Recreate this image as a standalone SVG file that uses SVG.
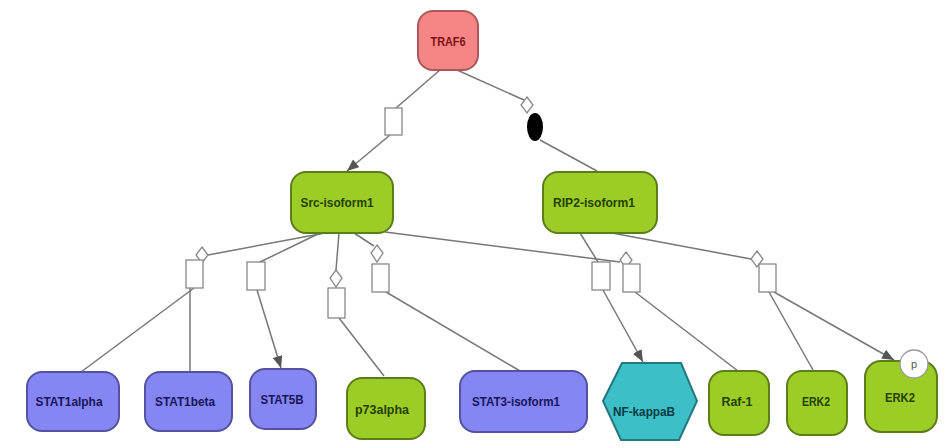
<svg xmlns="http://www.w3.org/2000/svg" width="951" height="448" viewBox="0 0 951 448">
<defs>
<marker id="arr" viewBox="0 0 12 10" refX="12" refY="5" markerWidth="12" markerHeight="10" markerUnits="userSpaceOnUse" orient="auto">
<path d="M0,0 L12,5 L0,10 Z" fill="#555"/>
</marker>
<style>
.edge{stroke:#777;stroke-width:1.5;fill:none}
.proc{fill:#fff;stroke:#888;stroke-width:1.3}
.dia{fill:#fff;stroke:#888;stroke-width:1.3}
.lbl{font-family:"Liberation Sans Narrow","Liberation Sans",Arial,sans-serif;font-weight:bold;font-size:13px;text-anchor:middle;dominant-baseline:central}
.red{fill:#f78585;stroke:#a85a5a;stroke-width:2}
.grn{fill:#9ccc26;stroke:#5d7d1a;stroke-width:2}
.blu{fill:#8585f4;stroke:#52529e;stroke-width:2}
.cyn{fill:#3dbfc8;stroke:#237880;stroke-width:2}
.tred{fill:#7a1414}
.tgrn{fill:#263f00}
.tblu{fill:#16165a}
.tcyn{fill:#073a40}
</style>
</defs>
<rect width="951" height="448" fill="#fff"/>
<g id="connectors">
<line class="edge" x1="440" y1="70" x2="396" y2="108"/>
<line class="edge" x1="390" y1="135" x2="347" y2="171" marker-end="url(#arr)"/>
<rect class="proc" x="385" y="108" width="17" height="27"/>
<line class="edge" x1="457" y1="70" x2="524" y2="100"/>
<line class="edge" x1="540" y1="140" x2="597" y2="171"/>
<path class="dia" d="M527,97 L533,105 L527,113 L521,105 Z"/>
<ellipse cx="535" cy="127" rx="8" ry="14" fill="#000"/>
<line class="edge" x1="325" y1="233" x2="208" y2="255"/>
<line class="edge" x1="194" y1="288" x2="81" y2="372"/>
<line class="edge" x1="190" y1="288" x2="190" y2="372"/>
<path class="dia" d="M202,247 L208,255 L202,263 L196,255 Z"/>
<rect class="proc" x="186" y="260" width="17" height="28"/>
<line class="edge" x1="320" y1="233" x2="258" y2="263"/>
<line class="edge" x1="257" y1="290" x2="281" y2="368" marker-end="url(#arr)"/>
<rect class="proc" x="247" y="262" width="18" height="28"/>
<line class="edge" x1="339" y1="233" x2="336" y2="270"/>
<line class="edge" x1="339" y1="318" x2="384" y2="376"/>
<path class="dia" d="M336,270 L342,278 L336,287 L330,278 Z"/>
<rect class="proc" x="328" y="288" width="17" height="30"/>
<line class="edge" x1="354" y1="233" x2="374" y2="246"/>
<line class="edge" x1="386" y1="292" x2="520" y2="371"/>
<path class="dia" d="M377,245 L383,253 L377,262 L371,253 Z"/>
<rect class="proc" x="372" y="264" width="17" height="28"/>
<line class="edge" x1="385" y1="232" x2="620" y2="262"/>
<line class="edge" x1="580" y1="233" x2="598" y2="262"/>
<line class="edge" x1="603" y1="290" x2="643" y2="362" marker-end="url(#arr)"/>
<rect class="proc" x="592" y="262" width="18" height="28"/>
<line class="edge" x1="635" y1="292" x2="738" y2="371"/>
<path class="dia" d="M626,252 L632,260 L626,268 L620,260 Z"/>
<rect class="proc" x="623" y="264" width="17" height="28"/>
<line class="edge" x1="612" y1="233" x2="751" y2="259"/>
<line class="edge" x1="769" y1="292" x2="813" y2="370"/>
<line class="edge" x1="774" y1="292" x2="894" y2="360" marker-end="url(#arr)"/>
<path class="dia" d="M757,251 L763,259 L757,267 L751,259 Z"/>
<rect class="proc" x="759" y="264" width="17" height="28"/>
</g>
<g id="TRAF6">
<rect class="red" x="418" y="11" width="60" height="59" rx="15"/>
<text class="lbl tred" x="448" y="41" textLength="35" lengthAdjust="spacingAndGlyphs">TRAF6</text>
</g>
<g id="Src-isoform1">
<rect class="grn" x="291" y="172" width="102" height="61" rx="15"/>
<text class="lbl tgrn" x="337" y="202" textLength="73" lengthAdjust="spacingAndGlyphs">Src-isoform1</text>
</g>
<g id="RIP2-isoform1">
<rect class="grn" x="543" y="172" width="114" height="61" rx="15"/>
<text class="lbl tgrn" x="594" y="202" textLength="82" lengthAdjust="spacingAndGlyphs">RIP2-isoform1</text>
</g>
<g id="STAT1alpha">
<rect class="blu" x="27" y="372" width="92" height="59" rx="15"/>
<text class="lbl tblu" x="69" y="401" textLength="67" lengthAdjust="spacingAndGlyphs">STAT1alpha</text>
</g>
<g id="STAT1beta">
<rect class="blu" x="145" y="372" width="87" height="59" rx="15"/>
<text class="lbl tblu" x="185" y="401" textLength="60" lengthAdjust="spacingAndGlyphs">STAT1beta</text>
</g>
<g id="STAT5B">
<rect class="blu" x="250" y="369" width="66" height="60" rx="15"/>
<text class="lbl tblu" x="282" y="399" textLength="43" lengthAdjust="spacingAndGlyphs">STAT5B</text>
</g>
<g id="p73alpha">
<rect class="grn" x="347" y="378" width="78" height="61" rx="15"/>
<text class="lbl tgrn" x="382" y="409" textLength="54" lengthAdjust="spacingAndGlyphs">p73alpha</text>
</g>
<g id="STAT3-isoform1">
<rect class="blu" x="460" y="371" width="127" height="61" rx="15"/>
<text class="lbl tblu" x="516" y="401" textLength="88" lengthAdjust="spacingAndGlyphs">STAT3-isoform1</text>
</g>
<g id="NF-kappaB">
<polygon class="cyn" points="603,401 622,363 681,363 697,401 679,440 621,440"/>
<text class="lbl tcyn" x="644" y="411" textLength="62" lengthAdjust="spacingAndGlyphs">NF-kappaB</text>
</g>
<g id="Raf-1">
<rect class="grn" x="709" y="371" width="60" height="64" rx="15"/>
<text class="lbl tgrn" x="737" y="401" textLength="31" lengthAdjust="spacingAndGlyphs">Raf-1</text>
</g>
<g id="ERK2-a">
<rect class="grn" x="787" y="371" width="60" height="64" rx="15"/>
<text class="lbl tgrn" x="816" y="401" textLength="28" lengthAdjust="spacingAndGlyphs">ERK2</text>
</g>
<g id="ERK2-b">
<rect class="grn" x="865" y="361" width="72" height="71" rx="16"/>
<text class="lbl tgrn" x="900" y="397" textLength="30" lengthAdjust="spacingAndGlyphs">ERK2</text>
<circle cx="914" cy="364" r="14" fill="#fff" stroke="#999" stroke-width="1.3"/>
<text x="914" y="364" font-family="Liberation Sans, Arial, sans-serif" font-size="11" fill="#555" text-anchor="middle" dominant-baseline="central">p</text>
</g>
</svg>
